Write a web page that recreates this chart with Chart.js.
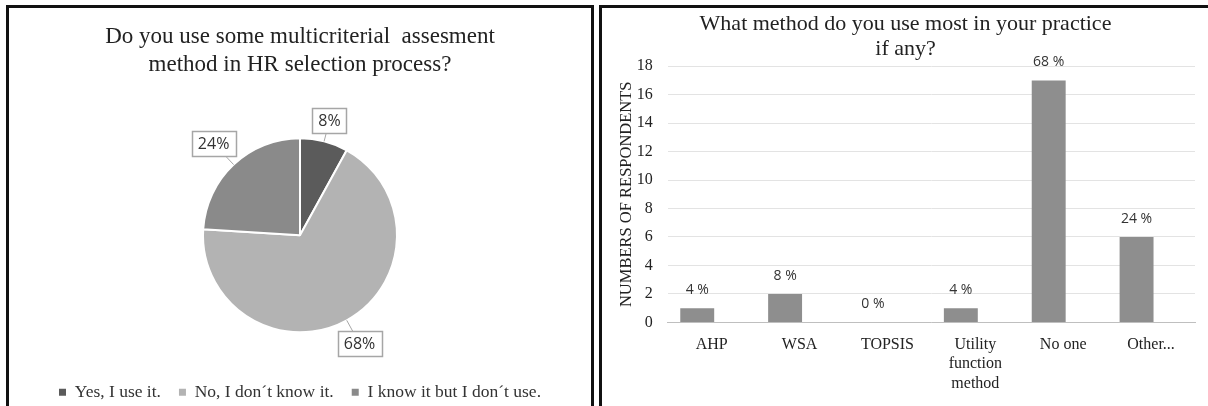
<!DOCTYPE html>
<html>
<head>
<meta charset="utf-8">
<title>HR selection survey</title>
<script src="https://cdn.jsdelivr.net/npm/chart.js@4.4.1/dist/chart.umd.min.js"></script>
<style>
	html, body { margin: 0; padding: 0; background: #fff; overflow: hidden; }
	body { width: 1208px; height: 406px; position: relative; }
	.panel { position: absolute; top: 5px; border: 3px solid #111; border-bottom: none; background: #fff; height: 420px; }
	#panel-pie { left: 6px; width: 582px; }
	#panel-bar { left: 599px; width: 620px; border-right: none; }
	canvas { display: block; }
</style>
</head>
<body>
<div class="panel" id="panel-pie"><canvas id="chart-pie" width="582" height="403"></canvas></div>
<div class="panel" id="panel-bar"><canvas id="chart-bar" width="606" height="398"></canvas></div>

<script>
/* global Chart */

// ----------------------------------------------------------------
// Data
// ----------------------------------------------------------------
var PIE_TITLE  = [ 'Do you use some multicriterial  assesment', 'method in HR selection process?' ];
var PIE_LABELS = [ 'Yes, I use it.', 'No, I don\u00b4t know it.', 'I know it but I don\u00b4t use.' ];
var PIE_SHARE  = [ 8, 68, 24 ];
var PIE_COLORS = [ '#5b5b5b', '#b3b3b3', '#8a8a8a' ];

var BAR_TITLE  = [ 'What method do you use most in your practice', 'if any?' ];
var BAR_LABELS = [ 'AHP', 'WSA', 'TOPSIS', [ 'Utility', 'function', 'method' ], 'No one', 'Other...' ];
var BAR_COUNTS = [ 1, 2, 0, 1, 17, 6 ];
var BAR_PCT    = [ '4 %', '8 %', '0 %', '4 %', '68 %', '24 %' ];
// the source sheet has a second, empty series that keeps each bar left of its label
var BAR_EMPTY  = [];
var Y_MAX      = 18;
var Y_STEP     = 2;
var Y_TITLE    = 'NUMBERS OF RESPONDENTS';

var SERIF = '"Liberation Serif", "Times New Roman", serif';
var SANS  = '"Open Sans", "Liberation Sans", sans-serif';
var INK   = '#222';

// ----------------------------------------------------------------
// Plugins: boxed callouts for the pie, value labels for the bars
// ----------------------------------------------------------------
var pieCallouts = {
	id: 'pieCallouts',
	afterDatasetsDraw: function ( chart ) {
		var ctx  = chart.ctx;
		var meta = chart.getDatasetMeta( 0 );
		ctx.save();
		ctx.font = '16px ' + SANS;
		meta.data.forEach( function ( arc, i ) {
			var p    = arc.getProps( [ 'x', 'y', 'startAngle', 'endAngle', 'outerRadius' ], true );
			var mid  = ( p.startAngle + p.endAngle ) / 2;
			var text = PIE_SHARE[ i ] + '%';
			var w    = Math.round( ctx.measureText( text ).width + 12 );
			var h    = 25;
			var cos  = Math.cos( mid );
			var sin  = Math.sin( mid );
			// push the box out until its nearest edge clears the rim
			var reach = Math.abs( cos ) * w / 2 + Math.abs( sin ) * h / 2;
			var dist  = p.outerRadius + 5 + reach;
			var cx    = p.x + cos * dist;
			var cy    = p.y + sin * dist;
			var ex    = p.x + cos * p.outerRadius;
			var ey    = p.y + sin * p.outerRadius;

			ctx.strokeStyle = '#a6a6a6';
			ctx.lineWidth   = 1;
			ctx.beginPath();
			ctx.moveTo( ex, ey );
			ctx.lineTo( cx, cy );
			ctx.stroke();

			var bx = Math.round( cx - w / 2 ) + 0.5;
			var by = Math.round( cy - h / 2 ) + 0.5;
			ctx.fillStyle = '#fff';
			ctx.fillRect( bx, by, w, h );
			ctx.lineWidth = 1.5;
			ctx.strokeRect( bx, by, w, h );

			ctx.fillStyle    = '#333';
			ctx.textAlign    = 'center';
			ctx.textBaseline = 'middle';
			ctx.fillText( text, cx, cy + 1 );
		} );
		ctx.restore();
	}
};

var barValues = {
	id: 'barValues',
	afterDatasetsDraw: function ( chart ) {
		var ctx  = chart.ctx;
		var meta = chart.getDatasetMeta( 0 );
		ctx.save();
		ctx.font         = '14px ' + SANS;
		ctx.fillStyle    = '#333';
		ctx.textAlign    = 'center';
		ctx.textBaseline = 'middle';
		meta.data.forEach( function ( bar, i ) {
			ctx.fillText( BAR_PCT[ i ], bar.x, bar.y - 18 );
		} );
		ctx.restore();
	}
};

// ----------------------------------------------------------------
// Pie: multicriterial method usage
// ----------------------------------------------------------------
new Chart( document.getElementById( 'chart-pie' ), {
	type: 'pie',
	data: {
		labels: PIE_LABELS,
		datasets: [ {
			data            : PIE_SHARE,
			backgroundColor : PIE_COLORS,
			borderColor     : '#fff',
			borderWidth     : 2,
			radius          : 97,
		} ],
	},
	options: {
		responsive : false,
		animation  : false,
		layout     : { padding: 0 },
		plugins: {
			title: {
				display : true,
				text    : PIE_TITLE,
				color   : INK,
				font    : { family: SERIF, size: 23, weight: 'normal', lineHeight: 1.22 },
				padding : { top: 15, bottom: 26 },
			},
			legend: {
				position: 'bottom',
				labels: {
					font      : { family: SERIF, size: 17.5 },
					color     : '#333',
					boxWidth  : 7,
					boxHeight : 7,
					padding   : 18,
					generateLabels: function ( chart ) {
						var items = Chart.overrides.pie.plugins.legend.labels.generateLabels( chart );
						return items.map( function ( it ) {
							it.lineWidth = 0;
							return it;
						} );
					},
				},
			},
			tooltip: { enabled: false },
		},
	},
	plugins: [ pieCallouts ],
} );

// ----------------------------------------------------------------
// Bar: most used method
// ----------------------------------------------------------------
new Chart( document.getElementById( 'chart-bar' ), {
	type: 'bar',
	data: {
		labels: BAR_LABELS,
		datasets: [ {
			data              : BAR_COUNTS,
			backgroundColor   : '#8e8e8e',
			barPercentage     : 1.17,
			categoryPercentage: 0.66,
		}, {
			data              : BAR_EMPTY,
			backgroundColor   : '#8e8e8e',
			barPercentage     : 1.17,
			categoryPercentage: 0.66,
		} ],
	},
	options: {
		responsive : false,
		animation  : false,
		layout     : { padding: { left: 14, right: 13, top: 0, bottom: 0 } },
		plugins: {
			legend  : { display: false },
			tooltip : { enabled: false },
			title: {
				display : true,
				text    : BAR_TITLE,
				color   : INK,
				font    : { family: SERIF, size: 22, weight: 'normal', lineHeight: 1.14 },
				padding : { top: 4, bottom: 4 },
			},
		},
		scales: {
			x: {
				grid   : { display: false, drawTicks: false },
				border : { display: true, color: '#bfbfbf', width: 1 },
				ticks  : { font: { family: SERIF, size: 16, lineHeight: 1.2 }, color: INK, padding: 13, maxRotation: 0, autoSkip: false },
			},
			y: {
				min    : 0,
				max    : Y_MAX,
				grid   : { color: '#e3e3e3', drawTicks: false },
				border : { display: false },
				ticks  : { stepSize: Y_STEP, font: { family: SERIF, size: 16 }, color: INK, padding: 15 },
				title  : {
					display : true,
					text    : Y_TITLE,
					color   : INK,
					font    : { family: SERIF, size: 16.5, lineHeight: 1.2 },
					padding : { top: 1, bottom: 0 },
				},
				// tick padding is counted twice by the fit; drop the spare gap next to the title
				afterFit: function ( scale ) {
					scale.width -= 15;
				},
			},
		},
	},
	plugins: [ barValues ],
} );
</script>
</body>
</html>
